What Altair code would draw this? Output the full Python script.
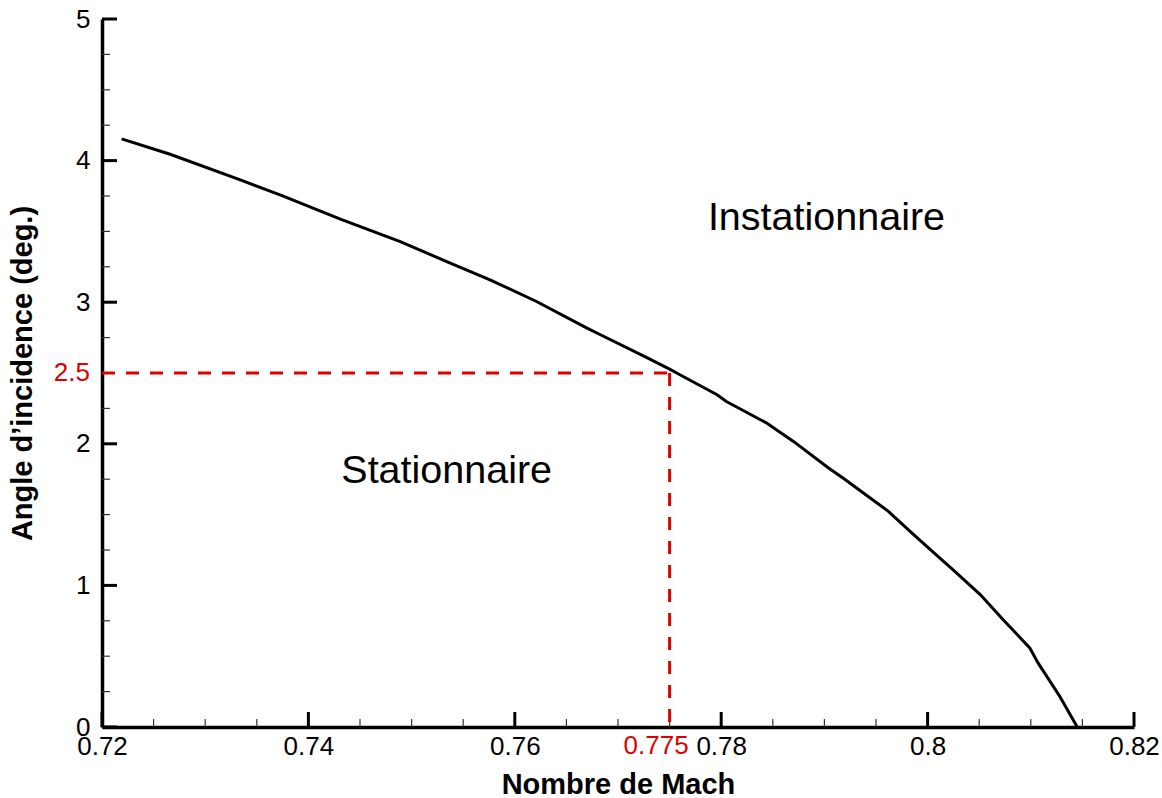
import altair as alt
import pandas as pd

# Stability boundary
mach = [0.7219, 0.7266, 0.7334, 0.7375, 0.7431, 0.7489, 0.7534, 0.7576, 0.7621,
        0.7670, 0.7683, 0.7728, 0.7750, 0.7760, 0.7796, 0.7805, 0.7844, 0.7870,
        0.7904, 0.7918, 0.7951, 0.7962, 0.7983, 0.8010, 0.8025, 0.8051, 0.8073,
        0.8099, 0.8107, 0.8128, 0.8145]
alpha = [4.153, 4.045, 3.864, 3.751, 3.587, 3.428, 3.287, 3.158, 3.005,
         2.817, 2.770, 2.608, 2.527, 2.488, 2.347, 2.299, 2.147, 2.017,
         1.829, 1.759, 1.582, 1.523, 1.382, 1.205, 1.108, 0.935, 0.759,
         0.559, 0.453, 0.217, 0.0]

x_major = [0.72, 0.74, 0.76, 0.78, 0.80, 0.82]
x_minor = [0.725, 0.73, 0.735, 0.745, 0.75, 0.755, 0.765, 0.77, 0.775,
           0.785, 0.79, 0.795, 0.805, 0.81, 0.815]
y_major = [0, 1, 2, 3, 4, 5]
y_minor = [0.25, 0.5, 0.75, 1.25, 1.5, 1.75, 2.25, 2.5, 2.75,
           3.25, 3.5, 3.75, 4.25, 4.5, 4.75]

mark_mach = 0.775
mark_alpha = 2.5
mark_mach_label = ["0.775"]
mark_alpha_label = ["2.5"]

regions = ["Stationnaire", "Instationnaire"]
region_mach = [0.7534, 0.7902]
region_alpha = [1.72, 3.51]

W, H = 1032, 708
FONT = "Liberation Sans"
RED = "#dd0000"
LBL = 26

xs = alt.Scale(domain=[0.72, 0.82], nice=False, zero=False)
ys = alt.Scale(domain=[0, 5], nice=False)

curve_df = pd.DataFrame({"mach": mach, "alpha": alpha})

base_x_axis = alt.Axis(values=x_major, format="~g", ticks=False, tickSize=0,
                       grid=False, domainColor="black", domainWidth=3.5,
                       labelFont=FONT, labelFontSize=LBL, labelColor="black",
                       labelPadding=6, labelFlush=False, labelOverlap=False,
                       title="Nombre de Mach", titleFont=FONT, titleFontSize=29,
                       titleFontWeight="bold", titleColor="black", titlePadding=11)
base_y_axis = alt.Axis(values=y_major, format="d", ticks=False, tickSize=0,
                       grid=False, domainColor="black", domainWidth=3.5,
                       labelFont=FONT, labelFontSize=LBL, labelColor="black",
                       labelPadding=12, labelFlush=False, labelOverlap=False,
                       title="Angle d\u2019incidence (deg.)", titleFont=FONT,
                       titleFontSize=29, titleFontWeight="bold", titleColor="black",
                       titlePadding=38)

curve = alt.Chart(curve_df).mark_line(color="black", strokeWidth=3).encode(
    x=alt.X("mach:Q", scale=xs, axis=base_x_axis),
    y=alt.Y("alpha:Q", scale=ys, axis=base_y_axis),
    order="mach:Q",
)

# inward ticks
ymaj = alt.Chart(pd.DataFrame({"v": y_major})).mark_rule(color="black", strokeWidth=3).encode(
    y=alt.Y("v:Q", scale=ys), x=alt.value(0), x2=alt.value(15))
ymin = alt.Chart(pd.DataFrame({"v": y_minor})).mark_rule(color="#333333", strokeWidth=1.2).encode(
    y=alt.Y("v:Q", scale=ys), x=alt.value(0), x2=alt.value(8))
xmaj = alt.Chart(pd.DataFrame({"v": x_major})).mark_rule(color="black", strokeWidth=3).encode(
    x=alt.X("v:Q", scale=xs), y=alt.value(H), y2=alt.value(H - 15))
xmin = alt.Chart(pd.DataFrame({"v": x_minor})).mark_rule(color="#333333", strokeWidth=1.2).encode(
    x=alt.X("v:Q", scale=xs), y=alt.value(H), y2=alt.value(H - 8))

# dashed marker lines
hdash = alt.Chart(pd.DataFrame({"x0": [0.72], "x1": [mark_mach], "y0": [mark_alpha]})).mark_rule(
    color=RED, strokeWidth=3, strokeDash=[13, 11]).encode(
    x=alt.X("x0:Q", scale=xs), x2="x1:Q", y=alt.Y("y0:Q", scale=ys))
vdash = alt.Chart(pd.DataFrame({"x0": [mark_mach], "y0": [mark_alpha], "y1": [0.0]})).mark_rule(
    color=RED, strokeWidth=3, strokeDash=[13, 11]).encode(
    x=alt.X("x0:Q", scale=xs), y=alt.Y("y0:Q", scale=ys), y2="y1:Q")

# red tick labels
ylab = alt.Chart(pd.DataFrame({"v": [mark_alpha], "t": mark_alpha_label})).mark_text(
    color=RED, font=FONT, fontSize=LBL, align="right", baseline="middle").encode(
    y=alt.Y("v:Q", scale=ys), x=alt.value(-12), text="t:N")
xlab = alt.Chart(pd.DataFrame({"v": [mark_mach], "t": mark_mach_label})).mark_text(
    color=RED, font=FONT, fontSize=LBL, align="right", baseline="top", dx=19).encode(
    x=alt.X("v:Q", scale=xs), y=alt.value(H + 6), text="t:N")

# region annotations
reg = alt.Chart(pd.DataFrame({"m": region_mach, "a": region_alpha, "t": regions})).mark_text(
    color="black", font=FONT, fontSize=39.5, align="center", baseline="alphabetic").encode(
    x=alt.X("m:Q", scale=xs), y=alt.Y("a:Q", scale=ys), text="t:N")

chart = alt.layer(curve, ymaj, ymin, xmaj, xmin, hdash, vdash, ylab, xlab, reg).properties(
    width=W, height=H,
    autosize=alt.AutoSizeParams(type="none"),
    padding={"left": 102, "top": 19, "right": 28, "bottom": 71},
    background="white",
).configure_view(stroke=None)

chart.save("out.html", embed_options={"renderer": "svg", "actions": False})
